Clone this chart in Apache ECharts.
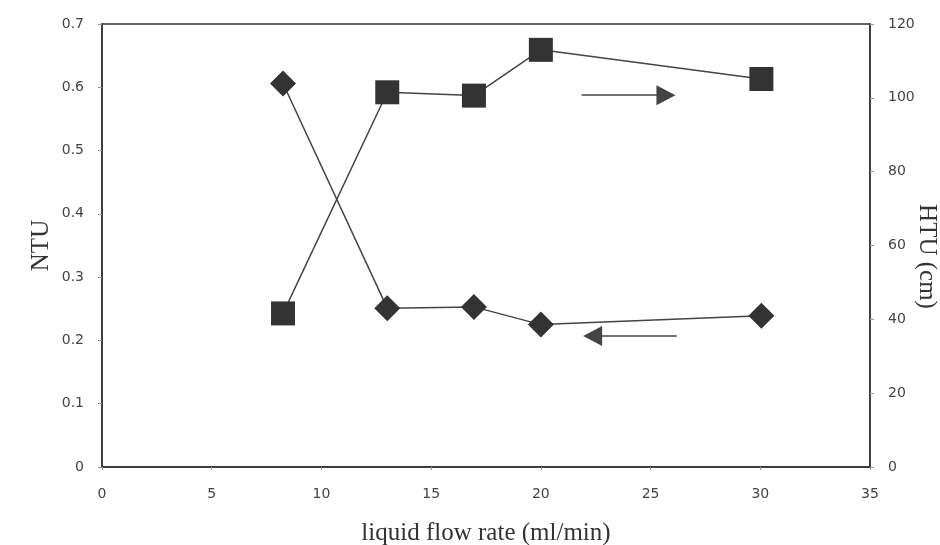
<!DOCTYPE html>
<html>
<head>
<meta charset="utf-8">
<script src="https://cdn.jsdelivr.net/npm/echarts@6/dist/echarts.min.js"></script>
<style>html,body{margin:0;padding:0;background:#fff}#c{width:940px;height:545px}</style>
</head>
<body>
<div id="c"></div>
<script>
// liquid flow rate (ml/min)
const flowNTU = [8.25, 13.0, 16.95, 20.0, 30.05];
const ntuValues = [0.606, 0.251, 0.253, 0.225, 0.239];
const flowHTU = [8.25, 13.0, 16.95, 20.0, 30.05];
const htuValues = [41.6, 101.5, 100.6, 113.0, 105.1];
// annotation arrows: [xTail, xHeadCentre, y]
const arrowHTU = [21.86, 25.7, 100.7];   // points right -> HTU axis
const arrowNTU = [26.19, 22.36, 0.207];  // points left  -> NTU axis

const ink = '#333333';
const tickFont = {color: '#444', fontSize: 14, fontFamily: 'DejaVu Sans'};
const titleFont = {color: ink, fontSize: 25, fontFamily: 'Liberation Serif'};

const chart = echarts.init(document.getElementById('c'), null, {renderer: 'canvas'});
chart.setOption({
  backgroundColor: '#fff',
  animation: false,
  grid: {left: 102, right: 70, top: 24, bottom: 78, outerBoundsMode: 'none', containLabel: false,
         show: true, borderColor: ink, borderWidth: 1.5, backgroundColor: '#fff'},
  xAxis: {
    type: 'value', min: 0, max: 35, interval: 5,
    name: 'liquid flow rate (ml/min)', nameLocation: 'middle', nameGap: 54, nameMoveOverlap: false,
    nameTextStyle: titleFont,
    axisLine: {show: true, lineStyle: {color: ink, width: 1.5}},
    axisTick: {show: true, length: 3, lineStyle: {color: '#999'}},
    axisLabel: Object.assign({margin: 20}, tickFont),
    splitLine: {show: false}
  },
  yAxis: [{
    type: 'value', min: 0, max: 0.7, interval: 0.1,
    name: 'NTU', nameLocation: 'middle', nameGap: 48, nameRotate: 90, nameMoveOverlap: false,
    nameTextStyle: titleFont,
    axisLine: {show: true, lineStyle: {color: ink, width: 1.5}},
    axisTick: {show: true, length: 4, lineStyle: {color: '#999'}},
    axisLabel: Object.assign({margin: 18, formatter: v => v === 0 ? '0' : v.toFixed(1)}, tickFont),
    splitLine: {show: false}
  }, {
    type: 'value', min: 0, max: 120, interval: 20, position: 'right',
    name: 'HTU (cm)', nameLocation: 'middle', nameGap: 44, nameRotate: -90, nameMoveOverlap: false,
    nameTextStyle: Object.assign({padding: [0, 0, 0, 22]}, titleFont),
    axisLine: {show: true, lineStyle: {color: ink, width: 1.5}},
    axisTick: {show: true, length: 4, lineStyle: {color: '#999'}},
    axisLabel: Object.assign({margin: 18}, tickFont),
    splitLine: {show: false}
  }],
  series: [{
    name: 'NTU', type: 'line', yAxisIndex: 0,
    data: flowNTU.map((x, i) => [x, ntuValues[i]]),
    symbol: 'diamond', symbolSize: [26, 26],
    itemStyle: {color: ink},
    lineStyle: {color: '#444', width: 1.5},
    markLine: {
      silent: true, label: {show: false},
      lineStyle: {color: '#444', width: 1.5, type: 'solid'},
      data: [[
        {coord: [arrowNTU[0], arrowNTU[2]], symbol: 'none'},
        {coord: [arrowNTU[1], arrowNTU[2]], symbol: 'triangle', symbolSize: [20, 19]}
      ]]
    }
  }, {
    name: 'HTU', type: 'line', yAxisIndex: 1,
    data: flowHTU.map((x, i) => [x, htuValues[i]]),
    symbol: 'rect', symbolSize: [24, 24],
    itemStyle: {color: ink},
    lineStyle: {color: '#444', width: 1.5},
    markLine: {
      silent: true, label: {show: false},
      lineStyle: {color: '#444', width: 1.5, type: 'solid'},
      data: [[
        {coord: [arrowHTU[0], arrowHTU[2]], symbol: 'none'},
        {coord: [arrowHTU[1], arrowHTU[2]], symbol: 'triangle', symbolSize: [20, 19]}
      ]]
    }
  }]
});
</script>
</body>
</html>
